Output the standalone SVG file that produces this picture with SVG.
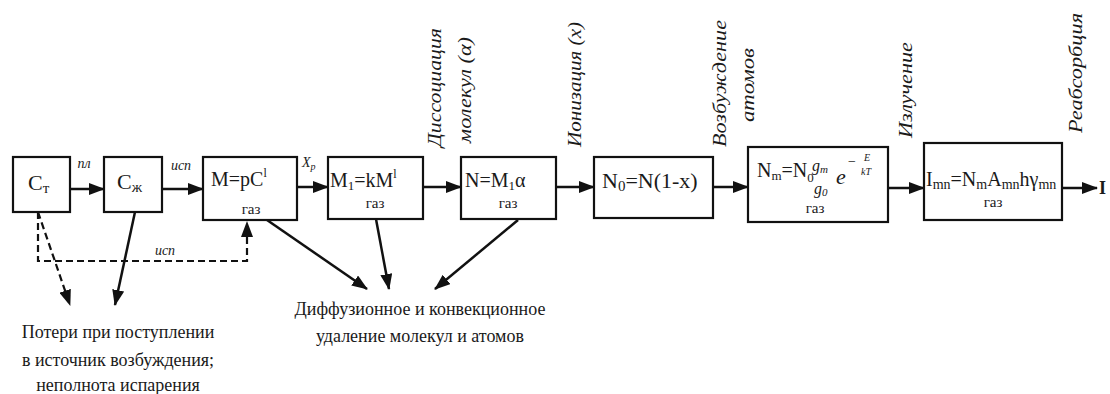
<svg xmlns="http://www.w3.org/2000/svg" width="1110" height="394" viewBox="0 0 1110 394">
<style>
text{font-family:"Liberation Serif","Times New Roman",serif;fill:#1a1a1a}
.box{fill:#fff;stroke:#111;stroke-width:2.2}
.f{font-size:20px}
.g{font-size:15px;text-anchor:middle}
.lab{font-size:14px;font-style:italic;text-anchor:middle}
.rot{font-size:18px;font-style:italic;text-anchor:middle}
.bt{font-size:18px;text-anchor:middle}
.ar{stroke:#111;stroke-width:2.5;fill:none;marker-end:url(#ah)}
.da{stroke:#111;stroke-width:2.2;fill:none;stroke-dasharray:7 4}
.it{font-style:italic}
</style>
<defs>
<marker id="ah" markerUnits="userSpaceOnUse" markerWidth="16" markerHeight="12" refX="15" refY="6" orient="auto"><path d="M0,0 L16,6 L0,12 z" fill="#111"/></marker>
</defs>
<g font-family="Liberation Serif, Times New Roman, serif">
<g id="connectors">
<line class="ar" x1="70" y1="189" x2="104" y2="189"/>
<line class="ar" x1="162" y1="189" x2="203" y2="189"/>
<line class="ar" x1="297" y1="187" x2="328" y2="187"/>
<line class="ar" x1="423" y1="187" x2="461" y2="187"/>
<line class="ar" x1="556" y1="187" x2="594" y2="187"/>
<line class="ar" x1="713" y1="187" x2="748" y2="187"/>
<line class="ar" x1="888" y1="188" x2="924" y2="188"/>
<line class="ar" x1="1062" y1="188" x2="1097" y2="188"/>
<path class="da" d="M38,212 V261 H247 V222" marker-end="url(#ah)"/>
<path class="da" d="M38,212 L70,305" marker-end="url(#ah)"/>
<line class="ar" x1="135" y1="212" x2="115" y2="305"/>
<line class="ar" x1="267" y1="220" x2="367" y2="289"/>
<line class="ar" x1="376" y1="219" x2="389" y2="289"/>
<line class="ar" x1="518" y1="220" x2="435" y2="289"/>
<text class="lab" x="84" y="168">пл</text>
<text class="lab" x="181" y="170">исп</text>
<text class="lab" x="165" y="255">исп</text>
<text class="it" x="302" y="167" font-size="14">X<tspan font-size="10" dy="3">p</tspan></text>
</g>

<g id="node-ct">
<rect class="box" x="13" y="157" width="57" height="55"/>
<text x="28" y="190" font-size="22">С<tspan font-size="15" dy="3">т</tspan></text>
</g>
<g id="node-cz">
<rect class="box" x="104" y="157" width="58" height="55"/>
<text x="117" y="189" font-size="22">С<tspan font-size="15" dy="3">ж</tspan></text>
</g>
<g id="node-m">
<rect class="box" x="203" y="157" width="94" height="63"/>
<text class="f" x="211" y="186">M=pC<tspan font-size="12" dy="-9">l</tspan></text>
<text class="g" x="251" y="214">газ</text>
</g>
<g id="node-m1">
<rect class="box" x="328" y="157" width="95" height="62"/>
<text class="f" x="330" y="187">M<tspan font-size="13" dy="3">1</tspan><tspan dy="-3">=kM</tspan><tspan font-size="12" dy="-9">l</tspan></text>
<text class="g" x="375" y="208">газ</text>
</g>
<g id="node-n">
<rect class="box" x="461" y="157" width="95" height="62"/>
<text class="f" x="465" y="187">N=M<tspan font-size="13" dy="3">1</tspan><tspan dy="-3">α</tspan></text>
<text class="g" x="508" y="208">газ</text>
</g>
<g id="node-n0">
<rect class="box" x="594" y="157" width="119" height="61"/>
<text x="602" y="188" font-size="22">N<tspan font-size="15" dy="3">0</tspan><tspan dy="-3">=N(1-x)</tspan></text>
</g>
<g id="node-nm">
<rect class="box" x="748" y="147" width="140" height="75"/>
<text class="f" x="757" y="177">N<tspan font-size="13" dy="3">m</tspan><tspan dy="-3">=N</tspan><tspan font-size="13" dy="5">0</tspan></text>
<text class="it" x="812" y="171" font-size="16">g<tspan font-size="11" dy="2">m</tspan></text>
<text class="it" x="814" y="194" font-size="16">g<tspan font-size="11" dy="2">0</tspan></text>
<text class="it" x="836" y="184" font-size="22">e</text>
<text x="848" y="166" font-size="14">−</text>
<text class="it" x="864" y="161" font-size="10">E</text>
<text class="it" x="861" y="175" font-size="10">kT</text>
<text class="g" x="815" y="213">газ</text>
</g>
<g id="node-imn">
<rect class="box" x="924" y="143" width="138" height="77"/>
<text x="926" y="186" font-size="20">I<tspan font-size="14" dy="3">mn</tspan><tspan dy="-3">=N</tspan><tspan font-size="14" dy="3">m</tspan><tspan dy="-3">A</tspan><tspan font-size="14" dy="3">mn</tspan><tspan dy="-3">hγ</tspan><tspan font-size="14" dy="3">mn</tspan></text>
<text class="g" x="993" y="207">газ</text>
</g>
<g id="node-i">
<text x="1099" y="194" font-size="18" font-weight="bold">I</text>
</g>

<g id="rotated-labels">
<text class="rot" transform="translate(441,87.5) rotate(-90)" textLength="119" lengthAdjust="spacingAndGlyphs">Диссоциация</text>
<text class="rot" transform="translate(471,90) rotate(-90)" textLength="106" lengthAdjust="spacingAndGlyphs">молекул (α)</text>
<text class="rot" transform="translate(581,84.5) rotate(-90)" textLength="125" lengthAdjust="spacingAndGlyphs">Ионизация (x)</text>
<text class="rot" transform="translate(726,83.5) rotate(-90)" textLength="127" lengthAdjust="spacingAndGlyphs">Возбуждение</text>
<text class="rot" transform="translate(754,85) rotate(-90)" textLength="74" lengthAdjust="spacingAndGlyphs">атомов</text>
<text class="rot" transform="translate(912,90) rotate(-90)" textLength="96" lengthAdjust="spacingAndGlyphs">Излучение</text>
<text class="rot" transform="translate(1082,73) rotate(-90)" textLength="120" lengthAdjust="spacingAndGlyphs">Реабсорбция</text>
</g>

<g id="node-losses">
<text class="bt" x="118" y="338">Потери при поступлении</text>
<text class="bt" x="118" y="366">в источник возбуждения;</text>
<text class="bt" x="118" y="391">неполнота испарения</text>
</g>
<g id="node-diffusion">
<text class="bt" x="420" y="315">Диффузионное и конвекционное</text>
<text class="bt" x="420" y="342">удаление молекул и атомов</text>
</g>
</g>
</svg>
